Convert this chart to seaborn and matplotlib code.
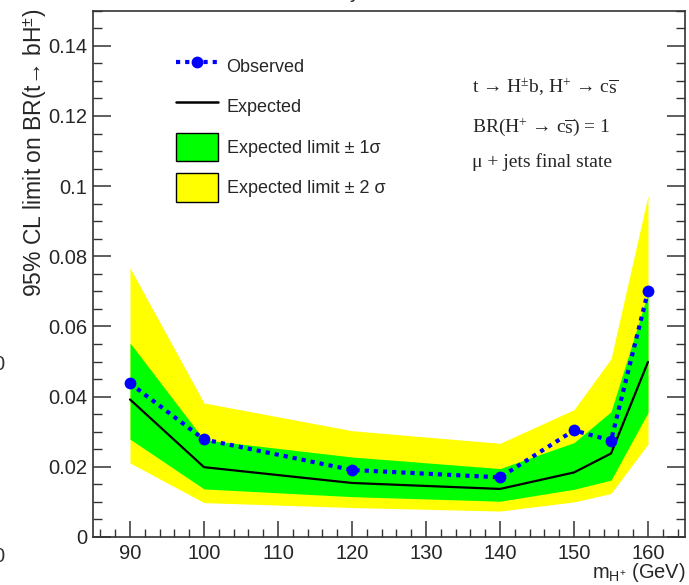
import numpy as np
import pandas as pd
import matplotlib
matplotlib.use("Agg")
import matplotlib.pyplot as plt
import seaborn as sns
from matplotlib.ticker import MultipleLocator, FuncFormatter
from matplotlib.lines import Line2D
from matplotlib.patches import Patch

# ---- data ----
mass = [90, 100, 120, 140, 150, 155, 160]
observed = [0.0438, 0.0278, 0.0191, 0.0170, 0.0304, 0.0275, 0.0700]
expected = [0.0392, 0.0199, 0.0154, 0.0137, 0.0184, 0.0238, 0.0499]
minus1 = [0.0279, 0.0137, 0.0115, 0.0102, 0.0136, 0.0162, 0.0355]
plus1 = [0.0553, 0.0277, 0.0228, 0.0195, 0.0269, 0.0357, 0.0695]
minus2 = [0.0211, 0.0098, 0.0084, 0.0074, 0.0100, 0.0124, 0.0265]
plus2 = [0.0767, 0.0382, 0.0303, 0.0267, 0.0363, 0.0508, 0.0973]

legend_labels = ["Observed", "Expected", "Expected limit \u00b1 1\u03c3", "Expected limit \u00b1 2 \u03c3"]
info_lines = ["t \u2192 H$^{\\pm}$b, H$^{+}$ \u2192 c$\\overline{\\mathrm{s}}$",
              "BR(H$^{+}$ \u2192 c$\\overline{\\mathrm{s}}$) = 1",
              "\u03bc + jets final state"]

df = pd.DataFrame({"mass": mass, "observed": observed, "expected": expected,
                   "m1": minus1, "p1": plus1, "m2": minus2, "p2": plus2})

sns.set_style("ticks")
plt.rcParams["font.family"] = ["Liberation Sans", "DejaVu Sans"]
plt.rcParams["mathtext.fontset"] = "custom"
plt.rcParams["mathtext.rm"] = "Liberation Serif"
plt.rcParams["mathtext.sf"] = "Liberation Sans"
plt.rcParams["mathtext.it"] = "Liberation Serif:italic"

W, H = 689, 585
fig = plt.figure(figsize=(W / 100, H / 100), dpi=100)
L, R, T, B = 93, 685, 10.7, 537
ax = fig.add_axes([L / W, (H - B) / H, (R - L) / W, (B - T) / H])

ax.fill_between(df["mass"], df["m2"], df["p2"], color="#ffff00", lw=0, zorder=1)
ax.fill_between(df["mass"], df["m1"], df["p1"], color="#00ff00", lw=0, zorder=2)
sns.lineplot(data=df, x="mass", y="expected", color="black", lw=1.6, ax=ax, zorder=3)
sns.lineplot(data=df, x="mass", y="observed", color="#0000ff", lw=3.0,
             linestyle=(0, (1, 1.2)), marker="o", markersize=8.5,
             markeredgewidth=0, ax=ax, zorder=4)

ax.set_xlim(85, 165)
ax.set_ylim(0, 0.15)
ax.set_xlabel("")
ax.set_ylabel("")

ax.xaxis.set_major_locator(MultipleLocator(10))
ax.xaxis.set_minor_locator(MultipleLocator(2))
ax.yaxis.set_major_locator(MultipleLocator(0.02))
ax.yaxis.set_minor_locator(MultipleLocator(0.005))
ax.yaxis.set_major_formatter(FuncFormatter(lambda v, p: "%g" % round(v, 4)))

ax.tick_params(axis="y", which="major", direction="in", length=13, width=1.1,
               labelsize=14.5, pad=4, right=True, color="#333333")
ax.tick_params(axis="y", which="minor", direction="in", length=6.5, width=1.0,
               right=True, color="#333333")
ax.tick_params(axis="x", which="major", direction="in", length=11.5, width=1.1,
               labelsize=14.5, pad=5, top=False, color="#333333")
ax.tick_params(axis="x", which="minor", direction="in", length=5.8, width=1.0,
               top=False, color="#333333")
for s in ax.spines.values():
    s.set_visible(True)
    s.set_color("#333333")
    s.set_linewidth(1.2)

# legend
handles = [Line2D([], [], color="#0000ff", lw=3.0, linestyle=(0, (1, 1.2)),
                  marker="o", markersize=8.5, markeredgewidth=0),
           Line2D([], [], color="black", lw=1.8),
           Patch(facecolor="#00ff00", edgecolor="black", lw=1.0),
           Patch(facecolor="#ffff00", edgecolor="black", lw=1.0)]
ax.legend(handles, legend_labels, loc="upper left",
          bbox_to_anchor=((176 - L) / (R - L), (B - 52) / (B - T)),
          frameon=False, fontsize=13, handlelength=2.3, handleheight=2.05,
          labelspacing=0.66, handletextpad=0.5, borderpad=0, borderaxespad=0)

# info text
ys = [93, 131.7, 167]
for txt, yy in zip(info_lines, ys):
    ax.text((472 - L) / (R - L), (B - yy) / (B - T), txt, transform=ax.transAxes,
            family=["Liberation Serif", "DejaVu Serif"], fontsize=14,
            ha="left", va="baseline")

# axis titles
fig.text(35 / W, 1 - 9 / H, "95% CL limit on BR(t\u2192 bH$^{\\mathsf{\\pm}}$)",
         rotation=90, ha="center", va="top", fontsize=16.5)
fig.text(686 / W, 7 / H, "m$_{\\mathsf{H}^{\\mathsf{+}}}$ (GeV)", ha="right",
         va="baseline", fontsize=14.5)

# clipped fragments from neighbouring panels
fig.text(4 / W, 1 - 365 / H, "0", ha="right", va="center", fontsize=14.5, color="#333333")
fig.text(4 / W, 1 - 556 / H, "0", ha="right", va="center", fontsize=14.5, color="#333333")
fig.text(355 / W, 1 + 1.5 / H, "y", ha="center", va="baseline", fontsize=14.5)

fig.savefig("out.png", dpi=100)
